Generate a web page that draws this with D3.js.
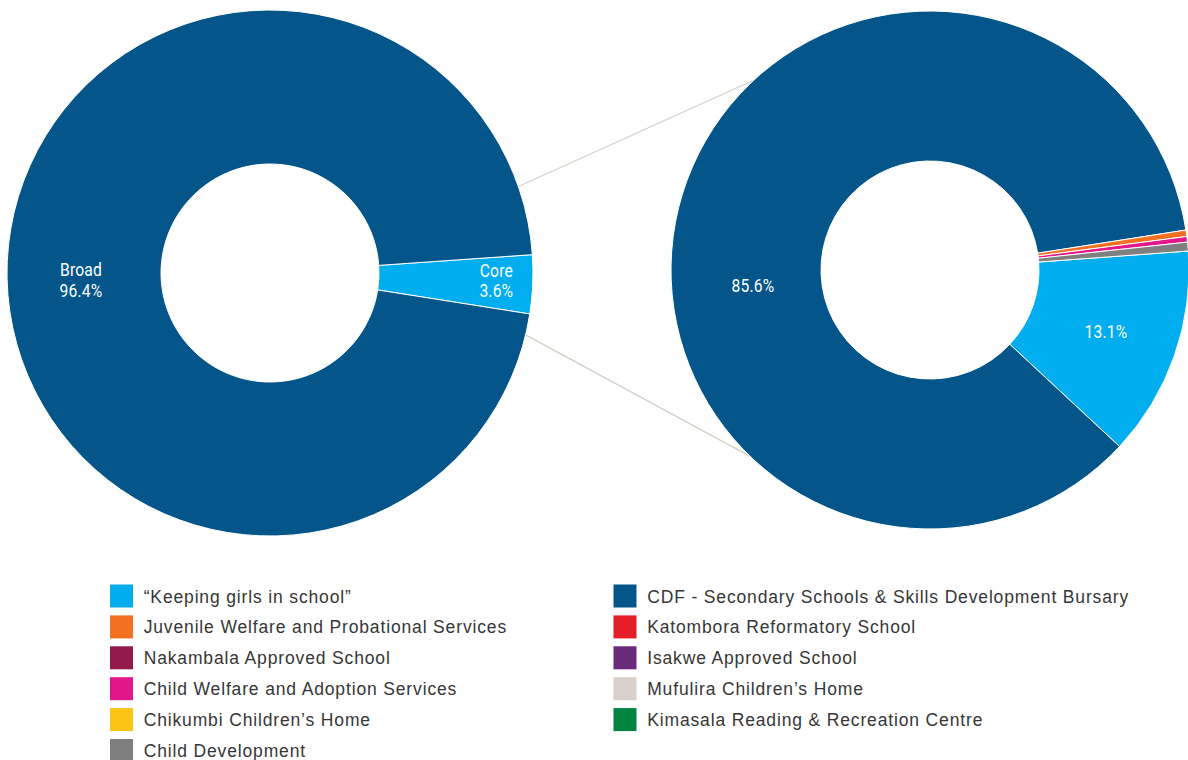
<!DOCTYPE html>
<html>
<head>
<meta charset="utf-8">
<script src="https://cdn.jsdelivr.net/npm/d3@7"></script>
<style>
  html, body { margin: 0; padding: 0; background: #ffffff; }
  svg { display: block; }
</style>
</head>
<body>
<svg id="chart" width="1188" height="760"></svg>
<script>
// Overall split of spending (per cent)
const overviewCategories = ["Core", "Broad"];
const overviewValues = [3.6, 96.4];
const overviewColors = ["#00aeef", "#04568a"];

// Breakdown by programme (per cent)
const programmeCategories = [
  "\u201CKeeping girls in school\u201D",
  "CDF - Secondary Schools & Skills Development Bursary",
  "Juvenile Welfare and Probational Services",
  "Katombora Reformatory School",
  "Nakambala Approved School",
  "Isakwe Approved School",
  "Child Welfare and Adoption Services",
  "Mufulira Children\u2019s Home",
  "Chikumbi Children\u2019s Home",
  "Kimasala Reading & Recreation Centre",
  "Child Development"
];
const programmeValues = [13.1, 85.6, 0.4, 0, 0, 0, 0.35, 0, 0, 0, 0.55];
const programmeColors = [
  "#00aeef", "#04568a", "#f37021", "#e31e26", "#931a4c", "#6a2a7b",
  "#e2178a", "#d8d0c9", "#fdc315", "#00843f", "#7f7f80"
];
// which programme slices carry a percentage label
const programmeLabelled = [true, true, false, false, false, false, false, false, false, false, false];

const svg = d3.select("#chart");
const deg = Math.PI / 180;

// ---- layout -------------------------------------------------------------
const left = { cx: 270, cy: 273, outer: 263, inner: 109, start: 86 };
const right = { cx: 930, cy: 270, outer: 259, inner: 109, start: 85.8 };

// label nudges relative to each slice centroid
const overviewLabelShift = [[40, 0], [-2.7, 16]];
const programmeLabelShift = [[2, 0], [-0.6, 69.4]];

// connector line angles on each ring (clockwise from 12 o'clock)
const connectorLeft = [70.8, 103.6];
const connectorRight = [317.1, 224];

function polar(ring, a) {
  return [ring.cx + ring.outer * Math.sin(a * deg), ring.cy - ring.outer * Math.cos(a * deg)];
}

// ---- connector lines (drawn beneath both rings) -------------------------
const connectors = svg.append("g").attr("class", "connectors");
connectorLeft.forEach((a, i) => {
  const p0 = polar(left, a);
  const p1 = polar(right, connectorRight[i]);
  connectors.append("line")
    .attr("x1", p0[0]).attr("y1", p0[1])
    .attr("x2", p1[0]).attr("y2", p1[1])
    .attr("stroke", "#d6cfc7")
    .attr("stroke-width", 1.3);
});

// ---- doughnut helper ----------------------------------------------------
function doughnut(ring, cats, vals, colors, labelled, shifts, labelLines) {
  const pie = d3.pie()
    .sort(null)
    .value(d => d.value)
    .startAngle(ring.start * deg)
    .endAngle((ring.start + 360) * deg);
  const data = cats.map((c, i) => ({ name: c, value: vals[i], color: colors[i], idx: i }));
  const arcs = pie(data);
  const arc = d3.arc().innerRadius(ring.inner).outerRadius(ring.outer);
  const labelArc = d3.arc()
    .innerRadius((ring.inner + ring.outer) / 2 + 0.5)
    .outerRadius((ring.inner + ring.outer) / 2 + 0.5);

  const g = svg.append("g").attr("transform", `translate(${ring.cx},${ring.cy})`);
  g.selectAll("path.slice")
    .data(arcs.filter(d => d.data.value > 0))
    .join("path")
    .attr("class", "slice")
    .attr("d", arc)
    .attr("fill", d => d.data.color)
    .attr("stroke", "#ffffff")
    .attr("stroke-width", 1)
    .attr("stroke-linejoin", "round");

  const labels = g.selectAll("g.label")
    .data(arcs.filter(d => labelled[d.data.idx]))
    .join("g")
    .attr("class", "label")
    .attr("transform", d => {
      const c = labelArc.centroid(d);
      const s = shifts[d.data.idx];
      return `translate(${c[0] + s[0]},${c[1] + s[1]}) scale(0.87,1)`;
    });

  labels.each(function (d) {
    const lines = labelLines(d);
    const t = d3.select(this).append("text")
      .attr("text-anchor", "middle")
      .attr("fill", "#ffffff")
      .attr("font-family", "Roboto, 'Liberation Sans', sans-serif")
      .attr("font-size", 18)
      .attr("letter-spacing", 0.2);
    const first = lines.length === 1 ? 6.3 : -4.5;
    lines.forEach((ln, k) => {
      t.append("tspan").attr("x", 0).attr("y", first + k * 20.5).text(ln);
    });
  });
}

const pct = v => d3.format(".1f")(v) + "%";

doughnut(left, overviewCategories, overviewValues, overviewColors, [true, true],
  overviewLabelShift, d => [d.data.name, pct(d.data.value)]);

doughnut(right, programmeCategories, programmeValues, programmeColors, programmeLabelled,
  programmeLabelShift, d => [pct(d.data.value)]);

// ---- legend -------------------------------------------------------------
const legendX = [110, 613.5];
const legendTop = 584.5;
const legendPitch = 30.9;
const swatch = 23;

const legend = svg.append("g").attr("class", "legend");
programmeCategories.forEach((name, i) => {
  const col = i % 2, row = Math.floor(i / 2);
  const x = legendX[col];
  const y = legendTop + row * legendPitch;
  legend.append("rect")
    .attr("x", x).attr("y", y)
    .attr("width", swatch).attr("height", swatch)
    .attr("fill", programmeColors[i]);
  legend.append("text")
    .attr("x", x + swatch + 10.7)
    .attr("y", y + swatch / 2 + 6.5)
    .attr("fill", "#363636")
    .attr("font-family", "'Liberation Sans', Arial, sans-serif")
    .attr("font-size", 17.5)
    .attr("letter-spacing", 0.85)
    .text(name);
});
</script>
</body>
</html>
